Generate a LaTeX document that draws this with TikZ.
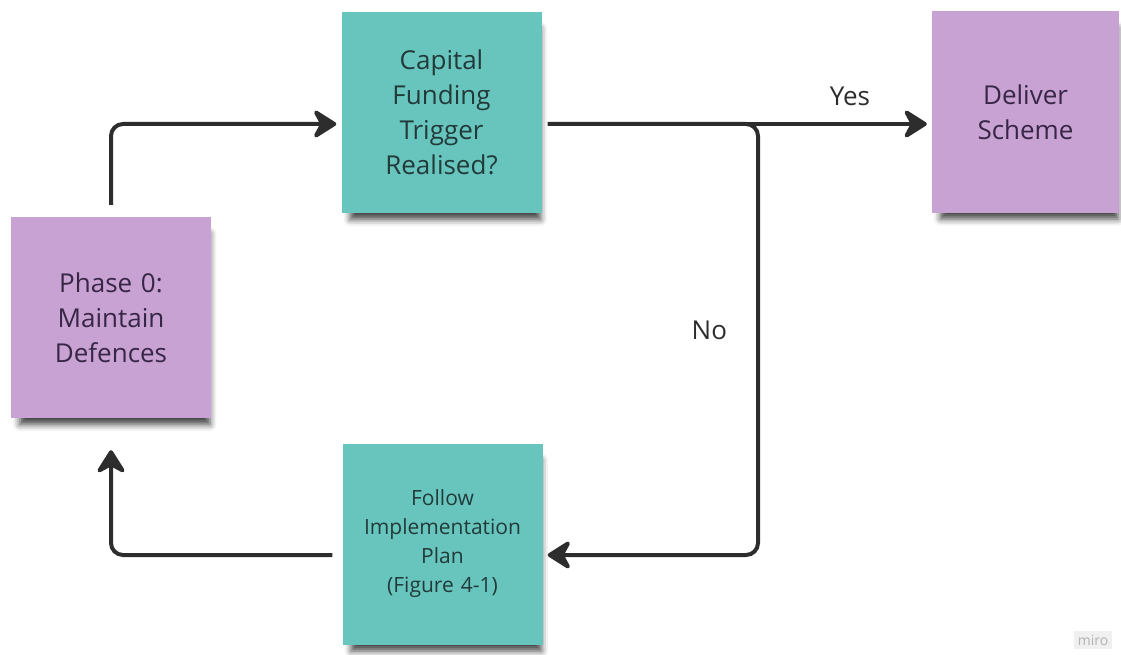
\documentclass[tikz,border=0pt]{standalone}
\usepackage{fontspec}
\setmainfont{Open Sans}
\usetikzlibrary{arrows.meta}
\usetikzlibrary{positioning}
\usetikzlibrary{shadows.blur}
\definecolor{stickyteal}{RGB}{104,197,190}
\definecolor{stickypurple}{RGB}{199,162,211}
\definecolor{tealink}{RGB}{34,58,58}
\definecolor{purpleink}{RGB}{56,38,70}
\definecolor{lineink}{RGB}{45,45,45}

\begin{document}
\begin{tikzpicture}[->,>={Stealth[length=27pt 0,width=34pt 0,inset=9pt 0,round]},x=1pt,y=-1pt,
					font=\fontsize{26}{35}\selectfont]
					\tikzstyle{sticky}=[rectangle,inner sep=0pt,text width=180pt,align=center,
					minimum width=200pt,minimum height=201pt,
					blur shadow={shadow xshift=4pt,shadow yshift=-12pt,shadow scale=0.95,shadow blur radius=7pt,shadow opacity=75}]
					\tikzstyle{teal note}=[sticky,fill=stickyteal,text=tealink]
					\tikzstyle{purple note}=[sticky,fill=stickypurple,text=purpleink]
					\tikzstyle{flow}=[color=lineink,line width=4pt,rounded corners=12pt]
					\tikzstyle{tag}=[inner sep=0pt,text=lineink]
					
					\useasboundingbox (0,0) rectangle (1121,655);
					
					\node[purple note]       (Phase_0) at (111,317.5) {Phase 0:\\Maintain\\Defences};
					\node[teal note]         (Trigger) at (441.5,112.5) {Capital\\Funding\\Trigger\\Realised?};
					\node[purple note,minimum width=187pt] (Deliver) at (1025.5,112) {Deliver\\Scheme};
					\node[teal note,font=\fontsize{21}{29}\selectfont] (Plan) at (442.5,544) {Follow\\Implementation\\Plan\\(Figure 4-1)};
					\node[fill=gray!12,text=gray!60,inner sep=4pt,font=\fontsize{14}{14}\selectfont] (Logo) at (1093,640) {miro};
					
					\coordinate (Split) at (758,124);
					
					\draw[flow,shorten <=12pt,shorten >=5pt] (Phase_0.north) |- ([yshift=-11.5pt]Trigger.west);
					\draw[flow,shorten <=6pt,shorten >=5pt] ([yshift=-11.5pt]Trigger.east) -- node[tag,pos=0.79,above=16pt] {Yes} ([yshift=-12pt]Deliver.west);
					\draw[flow,shorten <=6pt,shorten >=5pt] ([yshift=-11.5pt]Trigger.east) -- (Split) |- node[tag,pos=0.239,left=29pt] {No} ([yshift=-11pt]Plan.east);
					\draw[flow,shorten <=10pt,shorten >=32pt] ([yshift=-11pt]Plan.west) -| (Phase_0.south);
\end{tikzpicture}
\end{document}
